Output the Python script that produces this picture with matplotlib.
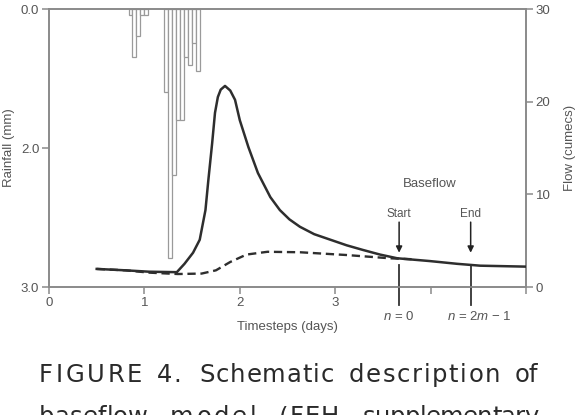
import matplotlib
matplotlib.use("Agg")
import matplotlib.pyplot as plt
import numpy as np

plt.rcParams['font.family'] = ['Liberation Sans', 'DejaVu Sans']
plt.rcParams['mathtext.fontset'] = 'custom'
plt.rcParams['mathtext.it'] = 'Liberation Sans:italic'
plt.rcParams['mathtext.rm'] = 'Liberation Sans'

# ---- data ----
rain_hours = [20, 21, 22, 23, 24, 29, 30, 31, 32, 33, 34, 35, 36, 37]
rain_mm = [0.065, 0.52, 0.29, 0.065, 0.065, 0.90, 2.69, 1.79, 1.20, 1.20, 0.52, 0.60, 0.37, 0.67]

flow_days = [0.5, 0.8, 1.05, 1.34, 1.42, 1.51, 1.58, 1.64, 1.67, 1.71, 1.74, 1.77, 1.80,
             1.845, 1.90, 1.95, 2.0, 2.09, 2.19, 2.32, 2.42, 2.52, 2.63, 2.78, 2.95, 3.12,
             3.29, 3.47, 3.65, 3.99, 4.28, 4.52, 4.99]
flow_cumecs = [1.95, 1.8, 1.65, 1.6, 2.5, 3.7, 5.1, 8.3, 11.5, 15.5, 18.8, 20.5, 21.3,
               21.7, 21.2, 20.2, 18.0, 15.1, 12.3, 9.7, 8.3, 7.3, 6.5, 5.7, 5.1, 4.5,
               4.0, 3.5, 3.1, 2.8, 2.5, 2.3, 2.2]

base_days = [0.5, 0.8, 1.05, 1.35, 1.6, 1.75, 1.9, 2.07, 2.29, 2.63, 3.12, 3.57, 3.8]
base_cumecs = [1.95, 1.8, 1.55, 1.4, 1.45, 1.8, 2.7, 3.5, 3.8, 3.75, 3.45, 3.1, 3.0]

x_ticks = [0, 1, 2, 3, 4, 5]
x_ticklabels = ['0', '1', '2', '3', '', '']
rain_ticks = [0.0, 1.5, 3.0]
rain_ticklabels = ['0.0', '2.0', '3.0']
flow_ticks = [0, 10, 20, 30]
flow_ticklabels = ['0', '10', '20', '30']

start_day = 3.67
end_day = 4.42

caption_line1 = ['FIGURE', '4.', 'Schematic', 'description', 'of']
caption_line2 = ['baseflow', 'model', '(FEH', 'supplementary']

# ---- figure ----
W, H = 575, 415
fig = plt.figure(figsize=(W / 100, H / 100), dpi=100)
ax = fig.add_axes([49 / W, 1 - 287 / H, (526 - 49) / W, (287 - 9) / H])
ax2 = ax.twinx()

gray = '#8a8a8a'
tcol = '#555555'
for a in (ax, ax2):
    for s in a.spines.values():
        s.set_color(gray)
        s.set_linewidth(1.2)

# rainfall bars
rain_x = np.array(rain_hours) / 24.0
ax.bar(rain_x, rain_mm, width=1 / 24.0, align='edge', facecolor='white',
       edgecolor='#9a9a9a', linewidth=0.9, zorder=2)
ax.set_xlim(0, 5)
ax.set_ylim(3.0, 0.0)
ax.set_yticks(rain_ticks)
ax.set_yticklabels(rain_ticklabels)
ax.set_xticks(x_ticks)
ax.set_xticklabels(x_ticklabels)
ax.tick_params(axis='both', colors=gray, labelcolor=tcol, labelsize=9.5,
               direction='out', length=5, width=1.1, pad=2)
ax.set_ylabel('Rainfall (mm)', color=tcol, fontsize=9.5, labelpad=4)
ax.set_xlabel('Timesteps (days)', color=tcol, fontsize=9.5, labelpad=9)

# flow
ax2.set_ylim(0, 30)
ax2.set_yticks(flow_ticks)
ax2.set_yticklabels(flow_ticklabels)
ax2.tick_params(axis='y', colors=gray, labelcolor=tcol, labelsize=9.5,
                direction='out', length=5, width=1.1, pad=2)
ax2.set_ylabel('Flow (cumecs)', color=tcol, fontsize=9.5, labelpad=10)

ax2.plot(flow_days, flow_cumecs, color='#2e2e2e', lw=1.8, zorder=4)
ax2.plot(base_days, base_cumecs, color='#2e2e2e', lw=1.7, ls=(0, (3.5, 2)), zorder=3)

# annotations
ax2.text(3.99, 11.1, 'Baseflow', ha='center', va='center', color=tcol, fontsize=9.5)
for xd, lab in [(start_day, 'Start'), (end_day, 'End')]:
    ax2.text(xd, 7.9, lab, ha='center', va='center', color=tcol, fontsize=8.5)
    ax2.annotate('', xy=(xd, 3.7), xytext=(xd, 7.0),
                 arrowprops=dict(arrowstyle='-|>', color='#222222', lw=1.1,
                                 mutation_scale=9, shrinkA=0, shrinkB=0))
    ax2.plot([xd, xd], [2.4, -1.9], color='#333333', lw=1.3, clip_on=False)

ax2.text(start_day, -3.2, r'$n$ = 0', ha='center', va='center', color=tcol, fontsize=9.5,
         clip_on=False)
ax2.text(4.51, -3.2, r'$n$ = 2$m$ − 1', ha='center', va='center', color=tcol, fontsize=9.5,
         clip_on=False)

# caption with word positions (pixel spans)
line1_spans = [(39, 142), (157, 181), (199, 334), (349, 500), (515, 537)]
line2_spans = [(39, 148), (170, 256), (279, 339), (363, 539)]

fig.canvas.draw()
renderer = fig.canvas.get_renderer()


def place_word(word, x0, x1, ybase):
    chars = []
    widths = []
    for ch in word:
        t = fig.text(0, 0, ch, fontsize=17.5, color='#2a2a2a', family=['DejaVu Sans'],
                     transform=None, va='baseline', ha='left')
        bb = t.get_window_extent(renderer)
        widths.append(bb.width)
        chars.append(t)
    total = sum(widths)
    n = len(word)
    extra = (x1 - x0 - total) / (n - 1) if n > 1 else 0
    x = x0
    for t, w in zip(chars, widths):
        t.set_position((x, H - ybase))
        x += w + extra


for word, (a, b) in zip(caption_line1, line1_spans):
    place_word(word, a, b, 382)
for word, (a, b) in zip(caption_line2, line2_spans):
    place_word(word, a, b, 424)

fig.savefig('out.png', dpi=100)
